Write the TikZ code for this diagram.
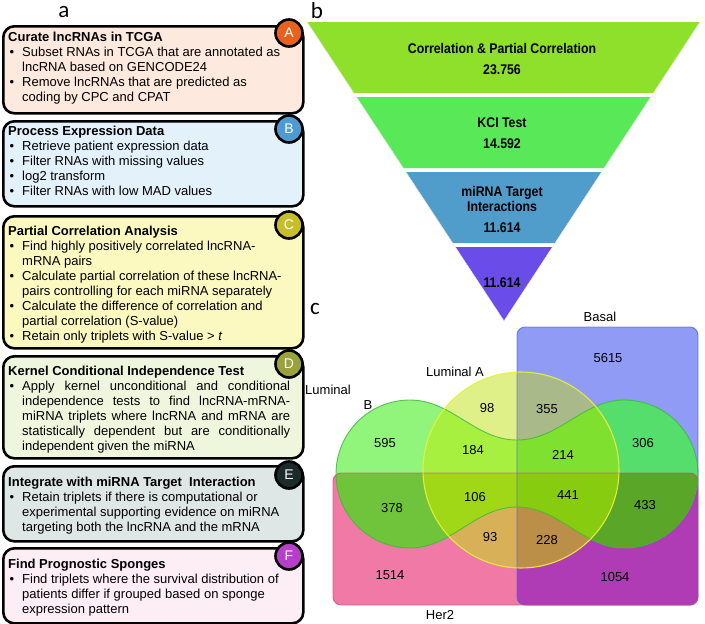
\documentclass[tikz,border=0pt]{standalone}
\usepackage{fontspec}
\setmainfont{Liberation Sans}
\newfontfamily\narrowfont[FakeStretch=0.88]{Liberation Sans}
\newfontfamily\panelfont{Carlito}
\definecolor{fillA}{HTML}{FDE9DD}
\definecolor{fillB}{HTML}{E3F1FB}
\definecolor{fillC}{HTML}{FBF8C0}
\definecolor{fillD}{HTML}{EEF7DD}
\definecolor{fillE}{HTML}{DFE6E6}
\definecolor{fillF}{HTML}{FDEEF5}
\definecolor{badgeA}{HTML}{E8621E}
\definecolor{badgeB}{HTML}{4E9BD3}
\definecolor{badgeC}{HTML}{C8BE2A}
\definecolor{badgeD}{HTML}{9AA23B}
\definecolor{badgeE}{HTML}{1B2A2A}
\definecolor{badgeF}{HTML}{B53FC9}
\definecolor{layA}{HTML}{8EE02A}
\definecolor{layB}{HTML}{58E858}
\definecolor{layC}{HTML}{509CCB}
\definecolor{layD}{HTML}{6A4DE8}
\definecolor{cBasal}{HTML}{8F9BF4}
\definecolor{cHer}{HTML}{F07AA5}
\definecolor{c1054}{HTML}{B03CB5}
\definecolor{cLB}{HTML}{90F57A}
\definecolor{c378}{HTML}{70C43C}
\definecolor{c306}{HTML}{55DE6C}
\definecolor{c433}{HTML}{5AA628}
\definecolor{cLA}{HTML}{E0F088}
\definecolor{c355}{HTML}{A9B98A}
\definecolor{c93}{HTML}{D8B058}
\definecolor{c228}{HTML}{BB8F48}
\definecolor{c184}{HTML}{A8F040}
\definecolor{c214}{HTML}{80E030}
\definecolor{c106}{HTML}{A0D818}
\definecolor{c441}{HTML}{88CC10}
\definecolor{bBasal}{HTML}{4A5AE0}
\definecolor{bHer}{HTML}{E0406A}
\definecolor{bLB}{HTML}{3CB43C}
\definecolor{bLA}{HTML}{E8F03C}
\newcommand{\bi}{\makebox[14pt][l]{\hspace{1.5pt}\textbullet}}
\newcommand{\ci}{\hspace*{14pt}}
\newcommand{\js}[1]{\makebox[268pt][s]{#1}}
\begin{document}
\begin{tikzpicture}[x=1pt,y=-1pt,
  stepbox/.style={draw=black, line width=2.6pt, rounded corners=11pt, anchor=north west, minimum width=300pt, inner sep=0pt},
  badge/.style={circle, draw=black, line width=2.6pt, minimum size=27pt, inner sep=0pt, text=white, font=\fontsize{14}{14}\selectfont},
  boxtext/.style={anchor=north west, inner sep=0pt, align=left, font=\fontsize{13}{15}\selectfont},
  panel/.style={font=\panelfont\fontsize{23}{23}\selectfont, inner sep=0pt},
  ftext/.style={font=\narrowfont\bfseries\fontsize{14}{15}\selectfont, align=center, inner sep=0pt},
  vlab/.style={font=\fontsize{13}{13}\selectfont, inner sep=0pt},
  layer/.style={draw=white!85!gray, line width=0.6pt},
  basalshape/.style={rounded corners=8pt, insert path={(517,327) rectangle (698,605)}},
  hershape/.style={rounded corners=8pt, insert path={(333,473) rectangle (698,605)}},
  lumashape/.style={insert path={(521,470) circle [radius=98pt]}},
  lumbshape/.style={insert path={(336,474) .. controls (336,433) and (369,400) .. (410,400) .. controls (452,400) and (475,440) .. (517,440) .. controls (559,440) and (583,400) .. (624,400) .. controls (665,400) and (698,433) .. (698,474) .. controls (698,515) and (665,548) .. (624,548) .. controls (583,548) and (559,507) .. (517,507) .. controls (475,507) and (452,548) .. (410,548) .. controls (369,548) and (336,515) .. (336,474) -- cycle}},
]
\useasboundingbox (0,0) rectangle (705,624);

% ---------------- panel a ----------------
\node[panel] (pa) at (64,12) {a};

\node[stepbox, fill=fillA, minimum height=87pt] (boxA) at (2,25) {};
\node[stepbox, fill=fillB, minimum height=85pt] (boxB) at (2,120) {};
\node[stepbox, fill=fillC, minimum height=132pt] (boxC) at (2,215) {};
\node[stepbox, fill=fillD, minimum height=102pt] (boxD) at (2,355) {};
\node[stepbox, fill=fillE, minimum height=75pt] (boxE) at (2,465) {};
\node[stepbox, fill=fillF, minimum height=75pt] (boxF) at (2,547) {};

\node[badge, fill=badgeA] (bA) at (289,33) {A};
\node[badge, fill=badgeB] (bB) at (289,129) {B};
\node[badge, fill=badgeC] (bC) at (289,225) {C};
\node[badge, fill=badgeD] (bD) at (289,364) {D};
\node[badge, fill=badgeE] (bE) at (289,475) {E};
\node[badge, fill=badgeF] (bF) at (289,556) {F};

\node[boxtext] (tA) at (8,32) {\textbf{Curate lncRNAs in TCGA}\\
\bi Subset RNAs in TCGA that are annotated as\\
\ci lncRNA based on GENCODE24\\
\bi Remove lncRNAs that are predicted as\\
\ci coding by CPC and CPAT};

\node[boxtext] (tB) at (8,126) {\textbf{Process Expression Data}\\
\bi Retrieve patient expression data\\
\bi Filter RNAs with missing values\\
\bi log2 transform\\
\bi Filter RNAs with low MAD values};

\node[boxtext] (tC) at (8,226) {\textbf{Partial Correlation Analysis}\\
\bi Find highly positively correlated lncRNA-\\
\ci mRNA pairs\\
\bi Calculate partial correlation of these lncRNA-\\
\ci pairs controlling for each miRNA separately\\
\bi Calculate the difference of correlation and\\
\ci partial correlation (S-value)\\
\bi Retain only triplets with S-value > \textit{t}};

\node[boxtext] (tD) at (8,366) {\textbf{Kernel Conditional Independence Test}\\
\bi \js{Apply kernel unconditional and conditional}\\
\ci \js{independence tests to find lncRNA-mRNA-}\\
\ci \js{miRNA triplets where lncRNA and mRNA are}\\
\ci \js{statistically dependent but are conditionally}\\
\ci independent given the miRNA};

\node[boxtext] (tE) at (8,477) {\textbf{Integrate with miRNA Target\ \ Interaction}\\
\bi Retain triplets if there is computational or\\
\ci experimental supporting evidence on miRNA\\
\ci targeting both the lncRNA and the mRNA};

\node[boxtext] (tF) at (8,559) {\textbf{Find Prognostic Sponges}\\
\bi Find triplets where the survival distribution of\\
\ci patients differ if grouped based on sponge\\
\ci expression pattern};

% ---------------- panel b ----------------
\node[panel] (pb) at (317,11) {b};
\fill[layA] (307,22) -- (700,22) -- (653.4,93) -- (353.8,93) -- cycle;
\fill[layB] (356.4,97) -- (650.8,97) -- (604.2,168) -- (403.2,168) -- cycle;
\fill[layC] (405.8,172) -- (601.6,172) -- (555,243) -- (452.6,243) -- cycle;
\fill[layD] (455.3,247) -- (552.4,247) -- (504,321) -- cycle;
\draw[layer] (307,22) -- (504,321) -- (700,22);

\node[ftext] (f1a) at (502,48) {Correlation \& Partial Correlation};
\node[ftext] (f1b) at (502,70) {23.756};
\node[ftext] (f2a) at (502,123) {KCI Test};
\node[ftext] (f2b) at (502,144) {14.592};
\node[ftext] (f3a) at (502,199) {miRNA Target\\Interactions};
\node[ftext] (f3b) at (502,228) {11.614};
\node[ftext] (f4) at (502,283) {11.614};

% ---------------- panel c ----------------
\node[panel] (pc) at (315,309) {c};

\fill[cBasal, basalshape];
\fill[cHer, hershape];
\begin{scope}
  \clip[basalshape];
  \fill[c1054, hershape];
\end{scope}
\fill[cLB, lumbshape];
\begin{scope}
  \clip[lumbshape];
  \fill[c306, basalshape];
  \begin{scope}
    \clip[hershape];
    \fill[c378] (300,300) rectangle (705,624);
    \fill[c433, basalshape];
  \end{scope}
\end{scope}
\fill[cLA, lumashape];
\begin{scope}
  \clip[lumashape];
  \fill[c355, basalshape];
  \begin{scope}
    \clip[hershape];
    \fill[c93] (300,300) rectangle (705,624);
    \fill[c228, basalshape];
  \end{scope}
  \begin{scope}
    \clip[lumbshape];
    \fill[c184] (300,300) rectangle (705,624);
    \fill[c214, basalshape];
    \begin{scope}
      \clip[hershape];
      \fill[c106] (300,300) rectangle (705,624);
      \fill[c441, basalshape];
    \end{scope}
  \end{scope}
\end{scope}
\draw[bBasal, line width=0.9pt, draw opacity=0.7, basalshape];
\draw[bHer, line width=0.9pt, draw opacity=0.7, hershape];
\draw[bLB, line width=0.9pt, draw opacity=0.8, lumbshape];
\draw[bLA, line width=1.1pt, draw opacity=0.9, lumashape];

\node[vlab] (lBasal) at (600,317) {Basal};
\node[vlab] (lLumA) at (455,372) {Luminal A};
\node[vlab] (lLumB1) at (328,390) {Luminal};
\node[vlab] (lLumB2) at (368,405) {B};
\node[vlab] (lHer) at (440,615) {Her2};

\node[vlab] (n5615) at (608,358) {5615};
\node[vlab] (n98) at (487,408) {98};
\node[vlab] (n355) at (547,409) {355};
\node[vlab] (n595) at (385,443) {595};
\node[vlab] (n184) at (473,450) {184};
\node[vlab] (n214) at (563,455) {214};
\node[vlab] (n306) at (643,443) {306};
\node[vlab] (n106) at (475,497) {106};
\node[vlab] (n441) at (568,495) {441};
\node[vlab] (n378) at (392,508) {378};
\node[vlab] (n433) at (645,505) {433};
\node[vlab] (n93) at (490,537) {93};
\node[vlab] (n228) at (547,540) {228};
\node[vlab] (n1514) at (390,575) {1514};
\node[vlab] (n1054) at (615,577) {1054};
\end{tikzpicture}
\end{document}
